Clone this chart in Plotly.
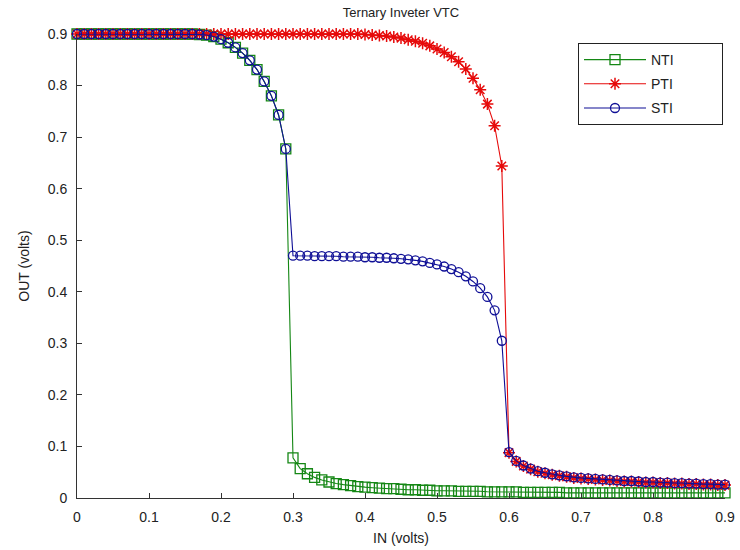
import plotly.graph_objects as go

x_in = [0.00, 0.01, 0.02, 0.03, 0.04, 0.05, 0.06, 0.07, 0.08, 0.09,
        0.10, 0.11, 0.12, 0.13, 0.14, 0.15, 0.16, 0.17, 0.18, 0.19,
        0.20, 0.21, 0.22, 0.23, 0.24, 0.25, 0.26, 0.27, 0.28, 0.29,
        0.30, 0.31, 0.32, 0.33, 0.34, 0.35, 0.36, 0.37, 0.38, 0.39,
        0.40, 0.41, 0.42, 0.43, 0.44, 0.45, 0.46, 0.47, 0.48, 0.49,
        0.50, 0.51, 0.52, 0.53, 0.54, 0.55, 0.56, 0.57, 0.58, 0.59,
        0.60, 0.61, 0.62, 0.63, 0.64, 0.65, 0.66, 0.67, 0.68, 0.69,
        0.70, 0.71, 0.72, 0.73, 0.74, 0.75, 0.76, 0.77, 0.78, 0.79,
        0.80, 0.81, 0.82, 0.83, 0.84, 0.85, 0.86, 0.87, 0.88, 0.89,
        0.90]

nti = [0.900, 0.900, 0.900, 0.900, 0.900, 0.900, 0.900, 0.900, 0.900, 0.900,
       0.900, 0.900, 0.900, 0.900, 0.900, 0.900, 0.900, 0.899, 0.898, 0.895,
       0.890, 0.883, 0.874, 0.863, 0.849, 0.831, 0.808, 0.780, 0.743, 0.677,
       0.078, 0.057, 0.047, 0.040, 0.035, 0.031, 0.028, 0.026, 0.024, 0.022,
       0.021, 0.020, 0.019, 0.018, 0.018, 0.017, 0.016, 0.016, 0.015, 0.015,
       0.014, 0.014, 0.014, 0.013, 0.013, 0.013, 0.013, 0.012, 0.012, 0.012,
       0.012, 0.012, 0.011, 0.011, 0.011, 0.011, 0.011, 0.011, 0.010, 0.010,
       0.010, 0.010, 0.010, 0.010, 0.010, 0.010, 0.010, 0.010, 0.010, 0.010,
       0.010, 0.010, 0.010, 0.010, 0.010, 0.010, 0.010, 0.010, 0.010, 0.010,
       0.010]

pti = [0.900, 0.900, 0.900, 0.900, 0.900, 0.900, 0.900, 0.900, 0.900, 0.900,
       0.900, 0.900, 0.900, 0.900, 0.900, 0.900, 0.900, 0.900, 0.900, 0.900,
       0.900, 0.900, 0.900, 0.900, 0.900, 0.900, 0.900, 0.900, 0.900, 0.900,
       0.900, 0.900, 0.900, 0.900, 0.900, 0.900, 0.900, 0.900, 0.900, 0.900,
       0.899, 0.898, 0.897, 0.896, 0.894, 0.892, 0.889, 0.886, 0.882, 0.877,
       0.871, 0.864, 0.856, 0.846, 0.832, 0.814, 0.792, 0.764, 0.722, 0.644,
       0.088, 0.071, 0.062, 0.056, 0.051, 0.048, 0.045, 0.043, 0.041, 0.039,
       0.038, 0.037, 0.036, 0.035, 0.034, 0.033, 0.032, 0.032, 0.031, 0.030,
       0.030, 0.029, 0.029, 0.028, 0.028, 0.027, 0.027, 0.026, 0.026, 0.025,
       0.025]

sti = [0.900, 0.900, 0.900, 0.900, 0.900, 0.900, 0.900, 0.900, 0.900, 0.900,
       0.900, 0.900, 0.900, 0.900, 0.900, 0.900, 0.900, 0.899, 0.898, 0.895,
       0.890, 0.883, 0.874, 0.863, 0.849, 0.831, 0.808, 0.780, 0.743, 0.677,
       0.470, 0.470, 0.470, 0.469, 0.469, 0.469, 0.469, 0.468, 0.468, 0.468,
       0.467, 0.467, 0.466, 0.466, 0.465, 0.464, 0.463, 0.461, 0.459, 0.456,
       0.453, 0.449, 0.444, 0.438, 0.430, 0.420, 0.407, 0.390, 0.364, 0.305,
       0.089, 0.072, 0.063, 0.057, 0.052, 0.049, 0.046, 0.044, 0.042, 0.040,
       0.039, 0.038, 0.037, 0.036, 0.035, 0.034, 0.033, 0.033, 0.032, 0.031,
       0.031, 0.030, 0.030, 0.029, 0.029, 0.028, 0.028, 0.027, 0.027, 0.026,
       0.026]

series_names = ["NTI", "PTI", "STI"]
tick_vals = [0, 0.1, 0.2, 0.3, 0.4, 0.5, 0.6, 0.7, 0.8, 0.9]
tick_text = ["0", "0.1", "0.2", "0.3", "0.4", "0.5", "0.6", "0.7", "0.8", "0.9"]

FONT = "Liberation Sans, Arial, sans-serif"
GREEN = "rgb(20,135,20)"
RED = "rgb(230,10,10)"
BLUE = "rgb(15,15,150)"

L, R, T, B = 77, 15, 34, 52
PW = 740 - L - R
PH = 550 - T - B
PAD = "\u00a0" * 11  # widen the legend box to match the reference

fig = go.Figure()
fig.add_trace(go.Scatter(
    x=x_in, y=nti, name=series_names[0] + PAD, mode="lines+markers", legendgroup="a",
    line=dict(color=GREEN, width=1.1),
    marker=dict(symbol="square-open", size=10, color=GREEN, line=dict(width=1.3)),
    cliponaxis=False))
fig.add_trace(go.Scatter(
    x=x_in, y=pti, name=series_names[1] + PAD, mode="lines+markers", legendgroup="b",
    line=dict(color=RED, width=1.1),
    marker=dict(symbol="asterisk-open", size=10, color=RED, line=dict(width=1.5, color=RED)),
    cliponaxis=False))
fig.add_trace(go.Scatter(
    x=x_in, y=sti, name=series_names[2] + PAD, mode="lines+markers", legendgroup="c",
    line=dict(color=BLUE, width=1.1),
    marker=dict(symbol="circle-open", size=9, color=BLUE, line=dict(width=1.3)),
    cliponaxis=False))

axis_common = dict(
    range=[0, 0.9], tickvals=tick_vals, ticktext=tick_text, automargin=False,
    showgrid=False, zeroline=False, showline=True, linecolor="#333333",
    linewidth=1, mirror=False, ticks="inside", ticklen=5, tickcolor="#333333",
    tickfont=dict(family=FONT, size=14, color="#222222"),
)

fig.update_layout(
    width=740, height=550,
    margin=dict(l=L, r=R, t=T, b=B),
    paper_bgcolor="white", plot_bgcolor="white",
    title=dict(text="Ternary Inveter VTC", x=(L + PW / 2) / 740, xanchor="center",
               y=1 - 12 / 550, yanchor="middle",
               font=dict(family=FONT, size=13, color="#222222")),
    xaxis=dict(**axis_common,
               title=dict(text="IN (volts)", standoff=9,
                          font=dict(family=FONT, size=14, color="#222222"))),
    yaxis=dict(**axis_common,
               title=dict(text="OUT (volts)", standoff=14,
                          font=dict(family=FONT, size=14, color="#222222"))),
    legend=dict(x=(578 - L) / PW, y=(550 - B - 43) / PH, xanchor="left", yanchor="top",
                bgcolor="white", bordercolor="#222222", borderwidth=1,
                font=dict(family=FONT, size=14, color="#222222"),
                itemwidth=62, tracegroupgap=3,
                traceorder="grouped"),
)
fig.update_xaxes(ticklabelstandoff=6)
fig.update_yaxes(ticklabelstandoff=6)

fig.write_html("out.html")
